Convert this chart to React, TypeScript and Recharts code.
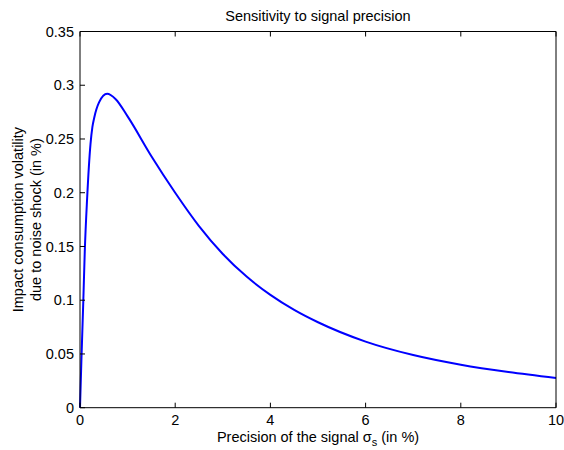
import { LineChart, Line, XAxis, YAxis } from 'recharts'

// precision of the signal (in %) and the impact on consumption volatility (in %)
const sigma = [0, 0.03, 0.07, 0.1, 0.15, 0.22, 0.26, 0.3, 0.4, 0.57, 0.75, 1, 1.5, 2, 2.5, 3, 3.5, 4, 4.5, 5, 6, 7, 8, 9, 10]
const impact = [0, 0.045, 0.1, 0.145, 0.195, 0.245, 0.261, 0.27, 0.284, 0.292, 0.287, 0.271, 0.234, 0.2, 0.169, 0.143, 0.122, 0.105, 0.091, 0.0795, 0.0615, 0.049, 0.04, 0.0332, 0.0277]

const xTicks = [0, 2, 4, 6, 8, 10]
const yTicks = [0, 0.05, 0.1, 0.15, 0.2, 0.25, 0.3, 0.35]

const data = sigma.map((x, i) => ({ x, y: impact[i] }))

const W = 564
const H = 450
const LEFT = 80
const RIGHT = 8
const TOP = 31.5
const BOTTOM = 42.3
const TICK = 5
const FONT = '"Liberation Sans", Arial, Helvetica, sans-serif'
const FS = 14.5

const BottomTick = (p: any) => {
  const { x, y, payload } = p
  const axisY = y - 7
  return (
    <g>
      <line x1={x} x2={x} y1={axisY} y2={axisY - TICK} stroke="#000" />
      <text x={x} y={y} dy="0.71em" textAnchor="middle" fontFamily={FONT} fontSize={FS} fill="#000">{String(payload.value)}</text>
    </g>
  )
}

const TopTick = (p: any) => {
  const { x, y } = p
  return <line x1={x} x2={x} y1={y} y2={y + TICK} stroke="#000" />
}

const LeftTick = (p: any) => {
  const { x, y, payload } = p
  const axisX = x + 6
  return (
    <g>
      <line x1={axisX} x2={axisX + TICK} y1={y} y2={y} stroke="#000" />
      <text x={x} y={y} dy="0.355em" textAnchor="end" fontFamily={FONT} fontSize={FS} fill="#000">{String(payload.value)}</text>
    </g>
  )
}

const RightTick = (p: any) => {
  const { x, y } = p
  return <line x1={x} x2={x - TICK} y1={y} y2={y} stroke="#000" />
}

const plotMidX = LEFT + (W - LEFT - RIGHT) / 2
const plotMidY = TOP + (H - TOP - BOTTOM) / 2

const TitleLabel = () => (
  <text x={plotMidX} y={21} textAnchor="middle" fontFamily={FONT} fontSize={FS} fill="#000">
    Sensitivity to signal precision
  </text>
)

const XLabel = () => (
  <text x={plotMidX} y={442} textAnchor="middle" fontFamily={FONT} fontSize={FS} fill="#000">
    Precision of the signal σ<tspan dy={4} fontSize={11}>s</tspan><tspan dy={-4}> (in %)</tspan>
  </text>
)

const YLabel = () => (
  <g fontFamily={FONT} fontSize={FS} fill="#000">
    <text transform={`translate(23, ${plotMidY}) rotate(-90)`} textAnchor="middle">Impact consumption volatility</text>
    <text transform={`translate(41, ${plotMidY}) rotate(-90)`} textAnchor="middle">due to noise shock (in %)</text>
  </g>
)

export default function App() {
  return (
    <div style={{ position: 'absolute', left: 0, top: 0, background: '#fff' }}>
      <LineChart width={W} height={H} data={data} margin={{ top: 0, right: 0, bottom: 0, left: 0 }}>
        <XAxis xAxisId="b" dataKey="x" type="number" domain={[0, 10]} ticks={xTicks} interval={0}
          height={BOTTOM} tickSize={0} tickMargin={7} tickLine={false}
          axisLine={{ stroke: '#000' }} tick={<BottomTick />} label={<XLabel />} />
        <XAxis xAxisId="t" orientation="top" dataKey="x" type="number" domain={[0, 10]} ticks={xTicks} interval={0}
          height={TOP} tickSize={0} tickMargin={0} tickLine={false}
          axisLine={{ stroke: '#000' }} tick={<TopTick />} label={<TitleLabel />} />
        <YAxis yAxisId="l" type="number" domain={[0, 0.35]} ticks={yTicks} interval={0}
          width={LEFT} tickSize={0} tickMargin={6} tickLine={false}
          axisLine={{ stroke: '#000' }} tick={<LeftTick />} label={<YLabel />} />
        <YAxis yAxisId="r" orientation="right" type="number" domain={[0, 0.35]} ticks={yTicks} interval={0}
          width={RIGHT} tickSize={0} tickMargin={0} tickLine={false}
          axisLine={{ stroke: '#000' }} tick={<RightTick />} />
        <Line xAxisId="b" yAxisId="l" type="monotone" dataKey="y" stroke="#0000ff" strokeWidth={2}
          dot={false} activeDot={false} isAnimationActive={false} />
      </LineChart>
    </div>
  )
}
